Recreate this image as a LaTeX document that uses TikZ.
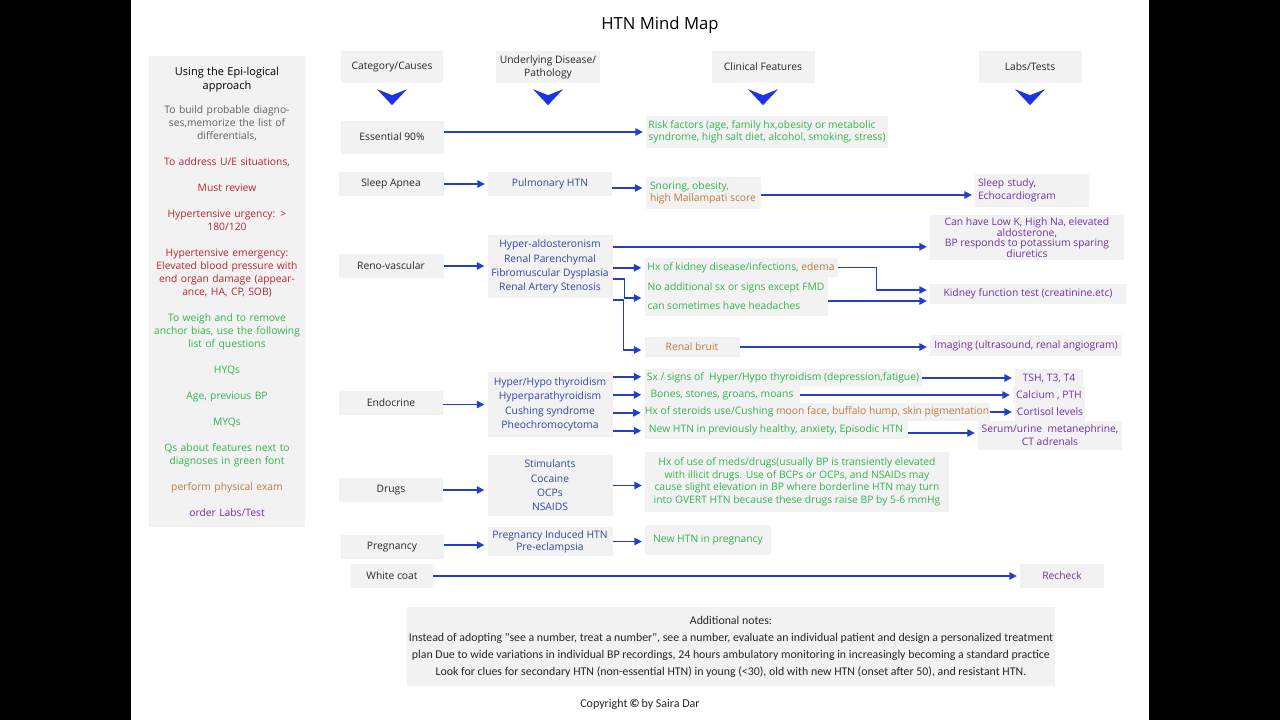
\documentclass[tikz,border=0pt]{standalone}
\usepackage{fontspec}
\setmainfont{Open Sans}
\newfontfamily\notesfont{Carlito}
\usetikzlibrary{arrows.meta}
\definecolor{boxgray}{RGB}{242,242,242}
\definecolor{linkblue}{RGB}{35,62,205}
\definecolor{chevblue}{RGB}{30,50,230}
\definecolor{disblue}{RGB}{47,70,160}
\definecolor{featgreen}{RGB}{50,180,75}
\definecolor{examorange}{RGB}{192,120,60}
\definecolor{labpurple}{RGB}{112,48,160}
\definecolor{mustred}{RGB}{185,35,45}
\definecolor{introgray}{RGB}{95,95,95}
\newcommand{\chevron}[1]{\fill[chevblue] (#1.south) ++(-15,6) -- ++(15,6) -- ++(15,-6) -- ++(-15,16) -- cycle;}
\tikzset{
	every node/.style = {font=\fontsize{10.3}{13}\selectfont},
	box/.style = {fill=boxgray, inner sep=1pt, align=center},
	head/.style = {box, text=black!85},
	cause/.style = {box, text=black!85},
	dis/.style = {box, text=disblue},
	feat/.style = {box, text=featgreen},
	lab/.style = {box, text=labpurple},
	link/.style = {draw=linkblue, line width=1.5pt, -{Triangle[length=7.5pt,width=7.5pt]}, shorten >=3pt}
}

\begin{document}
\begin{tikzpicture}[x=1pt,y=-1pt]
		% page
		\fill[black] (0,0) rectangle (1280,720);
		\fill[white] (131,0) rectangle (1149,720);
		\useasboundingbox (0,0) rectangle (1280,720);

		\node[font=\fontsize{16.7}{20}\selectfont] (title) at (660,25) {HTN Mind Map};

		% left panel
		\node[box, minimum width=156, minimum height=471, text width=156, inner sep=0pt] (epi) at (227,291.5) {%
			{\fontsize{11}{15}\selectfont Using the Epi-logical\\[1pt] approach}\\[11pt]
			\textcolor{introgray}{To build probable diagno-\\ses,memorize the list of\\differentials,}\\[13pt]
			\textcolor{mustred}{To address U/E situations,}\\[13pt]
			\textcolor{mustred}{Must review}\\[13pt]
			\textcolor{mustred}{Hypertensive urgency: >\\180/120}\\[13pt]
			\textcolor{mustred}{Hypertensive emergency:\\Elevated blood pressure with\\end organ damage (appear-\\ance, HA, CP, SOB)}\\[13pt]
			\textcolor{featgreen}{To weigh and to remove\\anchor bias, use the following\\list of questions}\\[13pt]
			\textcolor{featgreen}{HYQs}\\[13pt]
			\textcolor{featgreen}{Age, previous BP}\\[13pt]
			\textcolor{featgreen}{MYQs}\\[13pt]
			\textcolor{featgreen}{Qs about features next to\\diagnoses in green font}\\[13pt]
			\textcolor{examorange}{perform physical exam}\\[13pt]
			\textcolor{labpurple}{order Labs/Test}};

		% column heads
		\node[head, minimum width=102, minimum height=32] (hcat) at (392,67) {Category/Causes};
		\node[head, minimum width=104, minimum height=32] (hdis) at (548,67) {Underlying Disease/\\Pathology};
		\node[head, minimum width=103, minimum height=32] (hcli) at (763,67) {Clinical Features};
		\node[head, minimum width=103, minimum height=32] (hlab) at (1030,67) {Labs/Tests};
		\foreach \h in {hcat,hdis,hcli,hlab} {\chevron{\h}}

		% causes
		\node[cause, minimum width=103, minimum height=33] (ess) at (392,137) {Essential 90\%};
		\node[cause, minimum width=105, minimum height=24] (sleep) at (391,184) {Sleep Apnea};
		\node[cause, minimum width=105, minimum height=24] (reno) at (391,266) {Reno-vascular};
		\node[cause, minimum width=104, minimum height=24] (endo) at (391,403) {Endocrine};
		\node[cause, minimum width=104, minimum height=24] (drugs) at (391,490) {Drugs};
		\node[cause, minimum width=103, minimum height=24] (preg) at (392,547) {Pregnancy};
		\node[cause, minimum width=82, minimum height=24] (white) at (392,576) {White coat};

		% underlying disease
		\node[dis, minimum width=124, minimum height=24] (pulm) at (550,184) {Pulmonary HTN};
		\node[dis, minimum width=125, minimum height=63, font=\fontsize{10.3}{14.3}\selectfont] (rendis) at (550,266.5)
			{Hyper-aldosteronism\\Renal Parenchymal\\Fibromuscular Dysplasia\\Renal Artery Stenosis};
		\node[dis, minimum width=125, minimum height=65, font=\fontsize{10.3}{14.5}\selectfont] (enddis) at (550,404.5)
			{Hyper/Hypo thyroidism\\Hyperparathyroidism\\Cushing syndrome\\Pheochromocytoma};
		\node[dis, minimum width=125, minimum height=61, font=\fontsize{10.3}{14.3}\selectfont] (drugdis) at (550,485.5)
			{Stimulants\\Cocaine\\OCPs\\NSAIDS};
		\node[dis, minimum width=125, minimum height=29, font=\fontsize{10.3}{12}\selectfont] (pregdis) at (550,541.5)
			{Pregnancy Induced HTN\\Pre-eclampsia};

		% clinical features
		\node[feat, minimum width=242, minimum height=32, align=left, font=\fontsize{10.3}{12}\selectfont] (risk) at (767,132)
			{Risk factors (age, family hx,obesity or metabolic\\syndrome, high salt diet, alcohol, smoking, stress)};
		\node[feat, minimum width=115, minimum height=32, align=left, font=\fontsize{10.3}{12}\selectfont] (snore) at (703,193)
			{Snoring, obesity,\\\textcolor{examorange}{high Mallampati score}};
		\node[feat, minimum width=193, minimum height=19] (kidhx) at (741,267.5)
			{Hx of kidney disease/infections, \textcolor{examorange}{edema}};
		\node[feat, minimum width=183, minimum height=40, align=left] (noadd) at (736,296)
			{No additional sx or signs except FMD\\[6pt]can sometimes have headaches};
		\node[feat, minimum width=95, minimum height=20, text=examorange] (bruit) at (692,347) {Renal bruit};
		\node[feat, minimum width=277, minimum height=18] (thyr) at (783,378)
			{Sx / signs of\ \ Hyper/Hypo thyroidism (depression,fatigue)};
		\node[feat, minimum width=155, minimum height=18] (bones) at (722,395) {Bones, stones, groans, moans};
		\node[feat, minimum width=345, minimum height=18] (cush) at (817,412)
			{Hx of steroids use/Cushing \textcolor{examorange}{moon face, buffalo hump, skin pigmentation}};
		\node[feat, minimum width=263, minimum height=18] (pheo) at (776,430)
			{New HTN in previously healthy, anxiety, Episodic HTN};
		\node[feat, minimum width=304, minimum height=60, font=\fontsize{10.3}{12.5}\selectfont] (drugfx) at (797,482)
			{Hx of use of meds/drugs(usually BP is transiently elevated\\with illicit drugs. Use of BCPs or OCPs, and NSAIDs may\\cause slight elevation in BP where borderline HTN may turn\\into OVERT HTN because these drugs raise BP by 5-6 mmHg};
		\node[feat, minimum width=126, minimum height=30] (pregfx) at (708,540) {New HTN in pregnancy};

		% labs and tests
		\node[lab, minimum width=114, minimum height=33, text width=108, align=left] (study) at (1032,190.5)
			{Sleep study,\\Echocardiogram};
		\node[lab, minimum width=194, minimum height=45, font=\fontsize{10.3}{10}\selectfont] (lowk) at (1027,237.5)
			{Can have Low K, High Na, elevated\\aldosterone,\\BP responds to potassium sparing\\diuretics};
		\node[lab, minimum width=196, minimum height=20] (kidfn) at (1028,294) {Kidney function test (creatinine.etc)};
		\node[lab, minimum width=192, minimum height=21] (imag) at (1026,345.5) {Imaging (ultrasound, renal angiogram)};
		\node[lab, minimum width=68, minimum height=18] (tsh) at (1049,378) {TSH, T3, T4};
		\node[lab, minimum width=72, minimum height=18] (calc) at (1049,395) {Calcium , PTH};
		\node[lab, minimum width=70, minimum height=18] (cort) at (1050,412) {Cortisol levels};
		\node[lab, minimum width=144, minimum height=29] (serum) at (1050,435.5) {Serum/urine\ \ metanephrine,\\CT adrenals};
		\node[lab, minimum width=84, minimum height=24] (recheck) at (1062,576) {Recheck};

		% notes
		\node[box, minimum width=648, minimum height=79, text=black!85, font=\notesfont\fontsize{11.85}{17}\selectfont] (notes) at (731,646.5)
			{Additional notes:\\Instead of adopting "see a number, treat a number", see a number, evaluate an individual patient and design a personalized treatment\\plan Due to wide variations in individual BP recordings, 24 hours ambulatory monitoring in increasingly becoming a standard practice\\Look for clues for secondary HTN (non-essential HTN) in young (<30), old with new HTN (onset after 50), and resistant HTN.};
		\node[text=black!85, font=\notesfont\fontsize{12}{14}\selectfont] (copy) at (640,704) {Copyright\,{\bfseries\large\textcopyright}\,by Saira Dar};

		% connectors
		\draw[link] (ess.east |- risk.west) -- (risk.west);
		\draw[link] (sleep) -- (pulm);
		\coordinate (pulmout) at ([yshift=-4pt]pulm.east);
		\draw[link] (pulmout) -- (pulmout -| snore.west);
		\coordinate (snoreout) at ([yshift=-2pt]snore.east);
		\draw[link] (snoreout) -- (snoreout -| study.west);

		\draw[link] (reno.east) -- (reno.east -| rendis.west);
		\coordinate (aldo) at ([yshift=-12pt]rendis.north east);
		\coordinate (parench) at ([yshift=-33pt]rendis.north east);
		\coordinate (fmd) at ([yshift=-44pt]rendis.north east);
		\coordinate (ras) at ([yshift=-65pt]rendis.north east);
		\draw[link] (aldo) -- (aldo -| lowk.west);
		\draw[link] (parench) -- (parench -| kidhx.west);
		\draw[link] (fmd) -- ++(12,0) |- ([yshift=-2pt]noadd.west);
		\draw[link] (ras) -- ++(11,0) |- ([yshift=-3pt]bruit.west);
		\draw[link] (kidhx.east) -- ++(39,0) |- ([yshift=4pt]kidfn.west);
		\coordinate (noaddout) at ([yshift=-5pt]noadd.east);
		\draw[link] (noaddout) -- (noaddout -| kidfn.west);
		\draw[link] (bruit.east) -- (bruit.east -| imag.west);

		\draw[link] (endo.east |- enddis.west) -- (enddis.west);
		\foreach \dy/\fx in {5/thyr, 23/bones, 41/cush, 59/pheo} {
			\coordinate (endout) at ([yshift=-\dy pt]enddis.north east);
			\draw[link] (endout) -- (endout -| \fx.west);
		}
		\draw[link] (thyr) -- (tsh);
		\draw[link] (bones.east) -- (bones.east -| calc.west);
		\draw[link] (cush) -- (cort);
		\coordinate (pheoout) at ([yshift=-3pt]pheo.east);
		\draw[link] (pheoout) -- (pheoout -| serum.west);

		\draw[link] (drugs.east) -- (drugs.east -| drugdis.west);
		\draw[link] (drugdis.east) -- (drugdis.east -| drugfx.west);
		\coordinate (pregout) at ([yshift=2pt]preg.east);
		\draw[link] (pregout) -- (pregout -| pregdis.west);
		\draw[link] (pregdis.east) -- (pregdis.east -| pregfx.west);
		\draw[link] (white) -- (recheck);
\end{tikzpicture}
\end{document}
